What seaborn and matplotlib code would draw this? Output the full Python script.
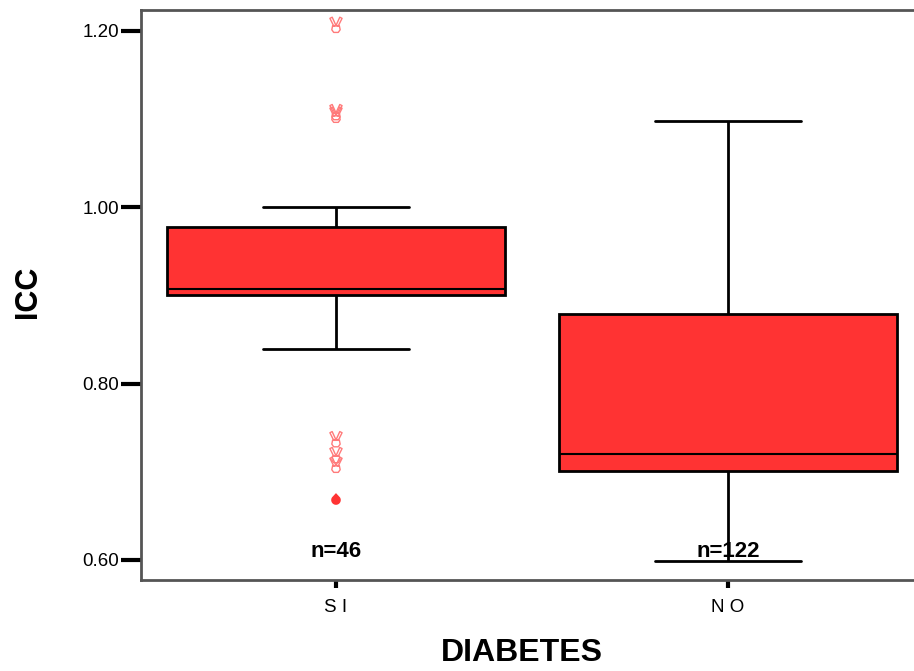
import numpy as np
import pandas as pd
import matplotlib
matplotlib.use("Agg")
import matplotlib.pyplot as plt
from matplotlib.path import Path
import seaborn as sns

# ---- data ----
groups = ["SI", "NO"]
group_labels = ["S I", "N O"]
# five-number summaries per group: whisker low, Q1, median, Q3, whisker high
summary_si = [0.839, 0.9007, 0.9075, 0.978, 1.000]
summary_no = [0.599, 0.701, 0.720, 0.879, 1.098]
counts = [46, 122]
# outliers (SI group)
outliers_si = [1.207, 1.108, 1.105, 0.737, 0.719, 0.708]
extremes_si = [0.668]
yticks = [0.60, 0.80, 1.00, 1.20]
ytick_labels = ["0.60", "0.80", "1.00", "1.20"]

df = pd.DataFrame({
    "DIABETES": ["SI"] * len(summary_si) + ["NO"] * len(summary_no),
    "ICC": summary_si + summary_no,
})

sns.set_style("white")
plt.rcParams["font.family"] = ["Liberation Sans", "DejaVu Sans"]
plt.rcParams["text.color"] = "black"
plt.rcParams["xtick.color"] = "black"
plt.rcParams["ytick.color"] = "black"
plt.rcParams["axes.labelcolor"] = "black"

fig = plt.figure(figsize=(9.14, 6.71), dpi=100)
ax = fig.add_axes([141 / 914, 1 - 580 / 671, 1 - 141 / 914, (580 - 10) / 671])

sns.boxplot(data=df, x="DIABETES", y="ICC", order=groups, ax=ax,
            color="#FF3333", saturation=1, width=0.86, whis=np.inf,
            linewidth=2, linecolor="black", showfliers=False,
            medianprops=dict(color="black", linewidth=1.5))

# cap widths
for line in ax.lines:
    xd = np.asarray(line.get_xdata(), dtype=float)
    yd = np.asarray(line.get_ydata(), dtype=float)
    if len(xd) == 2 and yd[0] == yd[1]:
        c = xd.mean()
        w = abs(xd[1] - xd[0])
        if w < 0.7:
            line.set_xdata([c - 0.185, c + 0.185])

# victory-hand outline marker for outliers
fist = Path([(-0.45, -0.15), (-0.55, -0.65), (-0.3, -1.0), (0.3, -1.0),
             (0.55, -0.65), (0.45, -0.15), (-0.45, -0.15)], closed=True)
lf = Path([(-0.3, -0.15), (-0.8, 0.85), (-0.5, 1.0), (-0.02, -0.05),
           (-0.3, -0.15)], closed=True)
rf = Path([(0.02, -0.05), (0.5, 1.0), (0.8, 0.85), (0.3, -0.15),
           (0.02, -0.05)], closed=True)
hand = Path.make_compound_path(fist, lf, rf)
ax.scatter([0] * len(outliers_si), outliers_si, marker=hand, s=120,
           facecolors="none", edgecolors="#FF7A7A", linewidths=1.0, zorder=5)

# extreme value as a teardrop marker
t = np.linspace(np.deg2rad(35), np.deg2rad(145 - 360), 40)
verts = [(0, 1.45)] + [(np.cos(a), np.sin(a)) for a in t] + [(0, 1.45)]
drop = Path(verts, closed=True)
ax.scatter([0] * len(extremes_si), extremes_si, marker=drop, s=100,
           color="#FF3333", edgecolor="none", zorder=5)

# n labels
for i, n in enumerate(counts):
    ax.text(i, 0.6095, f"n={n}", ha="center", va="center",
            fontsize=16, fontweight="bold", color="black")

ax.set_xlim(-0.4974, 1.4745)
ax.set_ylim(0.5773, 1.2238)
ax.set_yticks(yticks)
ax.set_yticklabels(ytick_labels, fontsize=13.5)
ax.set_xticks([0, 1])
ax.set_xticklabels(group_labels, fontsize=13.5)

ax.tick_params(axis="y", direction="out", length=14.5, width=3, color="black",
               labelcolor="black", left=True, pad=1)
ax.tick_params(axis="x", direction="out", length=6, width=3, color="black",
               labelcolor="black", bottom=True, pad=8)

for s in ["left", "bottom", "top"]:
    ax.spines[s].set_color("#555555")
    ax.spines[s].set_linewidth(2)
ax.spines["right"].set_visible(False)

ax.set_ylabel("")
ax.set_xlabel("")
fig.text(28 / 914, 1 - 292 / 671, "ICC", rotation=90, ha="center", va="center",
         fontsize=22, fontweight="bold", color="black")
fig.text(522 / 914, 1 - 668 / 671, "DIABETES", ha="center", va="bottom",
         fontsize=23, fontweight="bold", color="black")

fig.savefig("out.png", dpi=100)
